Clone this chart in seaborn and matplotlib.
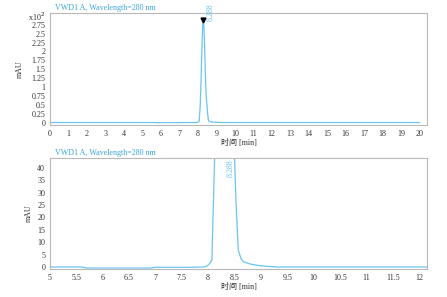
import matplotlib
matplotlib.use("Agg")
import matplotlib.pyplot as plt
import seaborn as sns
import pandas as pd

sns.set_theme(style="white")
plt.rcParams['font.family'] = ['Liberation Serif', 'Noto Sans CJK SC']

# Chromatogram trace (time in min, signal in mAU)
times = [0.0, 5.0, 5.6, 5.7, 6.9, 7.0, 7.7, 7.9, 7.97, 8.02, 8.07, 8.1, 8.13, 8.16,
         8.2, 8.24, 8.27, 8.3, 8.33, 8.37, 8.41, 8.45, 8.5, 8.53, 8.57, 8.62,
         8.67, 8.8, 8.9, 9.0, 9.3, 10.2, 20.0]
signal = [0.0, 0.0, 0.0, -0.4, -0.4, -0.1, -0.1, 0.0, 0.3, 1.2, 2.8, 27.0, 50.0, 95.0,
          170.0, 245.0, 280.0, 288.0, 270.0, 205.0, 130.0, 75.0, 44.0, 25.0, 7.0, 3.5,
          2.1, 1.2, 0.8, 0.5, 0.0, 0.0, 0.0]
peak_rt = 8.288
peak_height = 288.0
peak_label = "8.288"
title = "VWD1 A, Wavelength=280 nm"

top_yticks = [0, 0.25, 0.5, 0.75, 1, 1.25, 1.5, 1.75, 2, 2.25, 2.5, 2.75, 3]
top_ylabels = ['0', '0.25', '0.5', '0.75', '1', '1.25', '1.5', '1.75', '2', '2.25', '2.5', '2.75', 'x10$^2$']
top_xticks = list(range(0, 21))
bot_xticks = [5, 5.5, 6, 6.5, 7, 7.5, 8, 8.5, 9, 9.5, 10, 10.5, 11, 11.5, 12]
bot_yticks = [0, 5, 10, 15, 20, 25, 30, 35, 40]

line_c = '#6cc4f2'
title_c = '#3aa6e0'
spine_c = '#b8b8b8'
text_c = '#333333'
fs = 5.8

df = pd.DataFrame({'t': times, 's': signal})
df['s100'] = df['s'] / 100.0

fig = plt.figure(figsize=(4.47, 2.97), dpi=100)
ax1 = fig.add_axes([50/447, 1-125/297, 377/447, 112/297])
ax2 = fig.add_axes([50/447, 1-269/297, 377/447, 111/297])

sns.lineplot(data=df, x='t', y='s100', ax=ax1, color=line_c, lw=0.9)
sns.lineplot(data=df, x='t', y='s', ax=ax2, color=line_c, lw=0.9)

ax1.set_xlim(0, 20.4)
ax1.set_ylim(-0.07, 3.08)
ax1.set_xticks(top_xticks)
ax1.set_xticklabels([str(v) for v in top_xticks])
ax1.set_yticks(top_yticks)
ax1.set_yticklabels(top_ylabels)
ax1.plot([peak_rt], [peak_height/100.0], marker='v', color='black', ms=3.5, ls='none')
ax1.text(peak_rt + 0.2, 2.85, peak_label, rotation=90, color=line_c, fontsize=fs,
         ha='left', va='bottom', clip_on=False)

ax2.set_xlim(5, 12.15)
ax2.set_ylim(-0.8, 44)
ax2.set_xticks(bot_xticks)
ax2.set_xticklabels([('%g' % v) for v in bot_xticks])
ax2.set_yticks(bot_yticks)
ax2.text(8.36, 36.5, peak_label, rotation=90, color=line_c, fontsize=fs,
         ha='left', va='bottom')

for ax in (ax1, ax2):
    for sp in ax.spines.values():
        sp.set_color(spine_c)
        sp.set_linewidth(0.8)
    ax.tick_params(axis='both', which='major', direction='out', length=2, width=0.6,
                   color='#555555', labelsize=fs, labelcolor=text_c, pad=1.5)
    ax.set_ylabel('mAU', fontsize=fs, color=text_c, labelpad=3)
    ax.set_xlabel('时间 [min]', fontsize=fs, color=text_c, labelpad=1)
    ax.text(0.012, 1.01, title, transform=ax.transAxes, color=title_c, fontsize=fs,
            ha='left', va='bottom')
    ax.set_facecolor('white')

fig.savefig('out.png', dpi=100, facecolor='white')
